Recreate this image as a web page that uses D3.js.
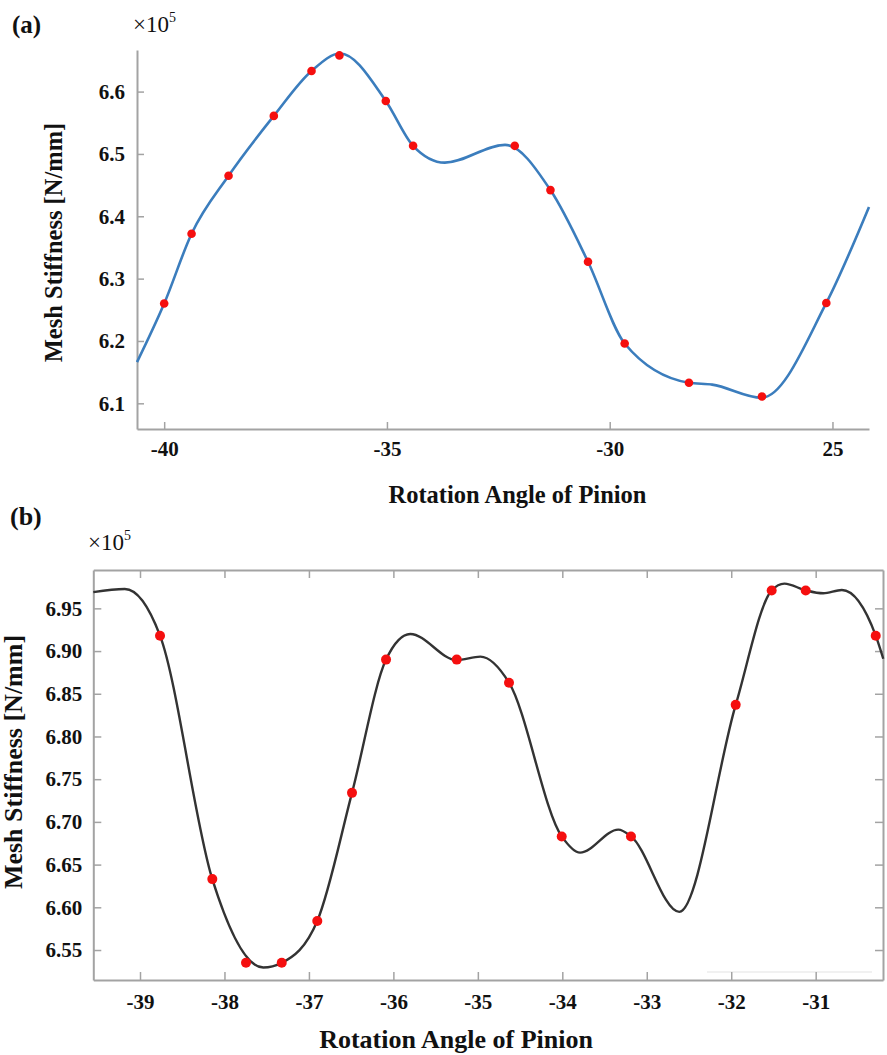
<!DOCTYPE html>
<html>
<head>
<meta charset="utf-8">
<script src="https://cdn.jsdelivr.net/npm/d3@7"></script>
<style>
  html, body { margin: 0; padding: 0; background: #fff; }
  svg { display: block; }
  text { font-family: "Liberation Serif", "Times New Roman", serif; fill: #111; }
</style>
</head>
<body>
<svg id="chart" width="887" height="1055"></svg>
<script>
// ---------- Panel (a) data ----------
const pointsAngleA = [-40.0, -39.385, -38.555, -37.539, -36.693, -36.067, -35.026, -34.413, -32.131, -31.330, -30.487, -29.664, -28.221, -26.583, -25.138];
const pointsStiffA = [6.260, 6.372, 6.465, 6.561, 6.633, 6.658, 6.585, 6.513, 6.513, 6.442, 6.327, 6.196, 6.133, 6.111, 6.261];
const curveAngleA = [-40.61, -40.0, -39.385, -38.555, -37.539, -36.693, -36.05, -35.026, -34.413, -33.70, -32.35, -31.330, -30.487, -29.664, -28.221, -27.70, -26.59, -25.138, -24.18];
const curveStiffA = [6.166, 6.260, 6.372, 6.465, 6.561, 6.633, 6.661, 6.585, 6.513, 6.486, 6.5145, 6.442, 6.327, 6.196, 6.133, 6.130, 6.109, 6.261, 6.415];
const xTicksA = [-40, -35, -30, -25];
const xTickLabelsA = ["-40", "-35", "-30", "25"];
const yTicksA = [6.1, 6.2, 6.3, 6.4, 6.5, 6.6];
const yTickLabelsA = ["6.1", "6.2", "6.3", "6.4", "6.5", "6.6"];

// ---------- Panel (b) data ----------
const pointsAngleB = [-38.763, -38.144, -37.745, -37.322, -36.901, -36.490, -36.087, -35.250, -34.631, -34.007, -33.187, -31.947, -31.521, -31.118, -30.289];
const pointsStiffB = [6.918, 6.633, 6.535, 6.535, 6.584, 6.734, 6.890, 6.890, 6.863, 6.683, 6.683, 6.837, 6.971, 6.971, 6.918];
const curveAngleB = [-39.553, -39.18, -38.763, -38.144, -37.54, -37.322, -36.901, -36.490, -36.087, -35.80, -35.25, -34.97, -34.631, -34.007, -33.79, -33.337, -33.187, -32.615, -31.947, -31.521, -31.37, -31.118, -30.91, -30.69, -30.289, -30.20];
const curveStiffB = [6.969, 6.9726, 6.918, 6.633, 6.5295, 6.535, 6.584, 6.734, 6.890, 6.920, 6.8895, 6.8935, 6.863, 6.683, 6.664, 6.691, 6.683, 6.5947, 6.837, 6.971, 6.979, 6.971, 6.9676, 6.9714, 6.918, 6.891];
const xTicksB = [-39, -38, -37, -36, -35, -34, -33, -32, -31];
const xTickLabelsB = ["-39", "-38", "-37", "-36", "-35", "-34", "-33", "-32", "-31"];
const yTicksB = [6.55, 6.60, 6.65, 6.70, 6.75, 6.80, 6.85, 6.90, 6.95];
const yTickLabelsB = ["6.55", "6.60", "6.65", "6.70", "6.75", "6.80", "6.85", "6.90", "6.95"];

const svg = d3.select("#chart");
const axisColor = "#a3a3a3";

function styleAxis(g, fontSize) {
  g.selectAll(".domain").attr("stroke", axisColor).attr("stroke-width", 2);
  g.selectAll(".tick line").attr("stroke", axisColor).attr("stroke-width", 1.5);
  g.selectAll(".tick text")
    .attr("font-family", "Liberation Serif, Times New Roman, serif")
    .attr("font-weight", "bold")
    .attr("font-size", fontSize)
    .attr("fill", "#111");
}

// ================= Panel (a) =================
(function () {
  const L = 137, T = 50, R = 869, B = 429;
  const x = d3.scaleLinear().domain([-40.61, -24.18]).range([L, R]);
  const y = d3.scaleLinear().domain([6.0588, 6.6667]).range([B, T]);
  const g = svg.append("g");

  const gx = g.append("g").attr("transform", `translate(0,${B})`)
    .call(d3.axisBottom(x).tickValues(xTicksA).tickSizeInner(-7).tickSizeOuter(0).tickPadding(12)
      .tickFormat((d, i) => xTickLabelsA[i]));
  styleAxis(gx, 21);
  gx.selectAll(".tick text").attr("dy", "0.71em");

  const gy = g.append("g").attr("transform", `translate(${L},0)`)
    .call(d3.axisLeft(y).tickValues(yTicksA).tickSizeInner(-7).tickSizeOuter(0).tickPadding(12)
      .tickFormat((d, i) => yTickLabelsA[i]));
  styleAxis(gy, 21);

  const curveData = curveAngleA.map((a, i) => [a, curveStiffA[i]]);
  g.append("path").datum(curveData)
    .attr("fill", "none").attr("stroke", "#3b7dbd").attr("stroke-width", 2.6)
    .attr("d", d3.line().x(d => x(d[0])).y(d => y(d[1])).curve(d3.curveMonotoneX));

  g.selectAll("circle.pa").data(pointsAngleA).join("circle")
    .attr("class", "pa")
    .attr("cx", d => x(d)).attr("cy", (d, i) => y(pointsStiffA[i]))
    .attr("r", 4.3).attr("fill", "#f50f0f");

  svg.append("text").attr("x", 12).attr("y", 33)
    .attr("font-size", 25).attr("font-weight", "bold").text("(a)");
  const sa = svg.append("text").attr("x", 133).attr("y", 32).attr("font-size", 23);
  sa.append("tspan").text("×10");
  sa.append("tspan").attr("font-size", 14).attr("dy", -10).text("5");

  svg.append("text").attr("transform", "translate(62,242.5) rotate(-90)")
    .attr("text-anchor", "middle").attr("font-size", 24.5).attr("font-weight", "bold")
    .text("Mesh Stiffness [N/mm]");
  svg.append("text").attr("x", 517.5).attr("y", 503)
    .attr("text-anchor", "middle").attr("font-size", 24.5).attr("font-weight", "bold")
    .text("Rotation Angle of Pinion");
})();

// ================= Panel (b) =================
(function () {
  const L = 93.3, T = 570, R = 883, B = 980;
  const x = d3.scaleLinear().domain([-39.553, -30.203]).range([L, R]);
  const y = d3.scaleLinear().domain([6.5149, 6.9949]).range([B, T]);
  const g = svg.append("g");

  // faint artifact line as in the source image
  g.append("line").attr("x1", 707).attr("x2", 872).attr("y1", 972).attr("y2", 972)
    .attr("stroke", "#ececec").attr("stroke-width", 1.5);

  const gx = g.append("g").attr("transform", `translate(0,${B})`)
    .call(d3.axisBottom(x).tickValues(xTicksB).tickSizeInner(-8).tickSizeOuter(0).tickPadding(14)
      .tickFormat((d, i) => xTickLabelsB[i]));
  styleAxis(gx, 21);
  gx.selectAll(".tick text").attr("dy", "0.71em");

  const gxt = g.append("g").attr("transform", `translate(0,${T})`)
    .call(d3.axisTop(x).tickValues(xTicksB).tickSizeInner(-8).tickSizeOuter(0).tickFormat(""));
  styleAxis(gxt, 21);

  const gy = g.append("g").attr("transform", `translate(${L},0)`)
    .call(d3.axisLeft(y).tickValues(yTicksB).tickSizeInner(-8).tickSizeOuter(0).tickPadding(11)
      .tickFormat((d, i) => yTickLabelsB[i]));
  styleAxis(gy, 21);

  const gyr = g.append("g").attr("transform", `translate(${R},0)`)
    .call(d3.axisRight(y).tickValues(yTicksB).tickSizeInner(-8).tickSizeOuter(0).tickFormat(""));
  styleAxis(gyr, 21);

  const curveData = curveAngleB.map((a, i) => [a, curveStiffB[i]]);
  g.append("path").datum(curveData)
    .attr("fill", "none").attr("stroke", "#333").attr("stroke-width", 2.4)
    .attr("d", d3.line().x(d => x(d[0])).y(d => y(d[1])).curve(d3.curveMonotoneX));

  g.selectAll("circle.pb").data(pointsAngleB).join("circle")
    .attr("class", "pb")
    .attr("cx", d => x(d)).attr("cy", (d, i) => y(pointsStiffB[i]))
    .attr("r", 5).attr("fill", "#f50f0f");

  svg.append("text").attr("x", 10).attr("y", 525)
    .attr("font-size", 26).attr("font-weight", "bold").text("(b)");
  const sb = svg.append("text").attr("x", 88).attr("y", 550).attr("font-size", 23);
  sb.append("tspan").text("×10");
  sb.append("tspan").attr("font-size", 14).attr("dy", -10).text("5");

  svg.append("text").attr("transform", "translate(22,762) rotate(-90)")
    .attr("text-anchor", "middle").attr("font-size", 26).attr("font-weight", "bold")
    .text("Mesh Stiffness [N/mm]");
  svg.append("text").attr("x", 456).attr("y", 1048)
    .attr("text-anchor", "middle").attr("font-size", 26).attr("font-weight", "bold")
    .text("Rotation Angle of Pinion");
})();
</script>
</body>
</html>
